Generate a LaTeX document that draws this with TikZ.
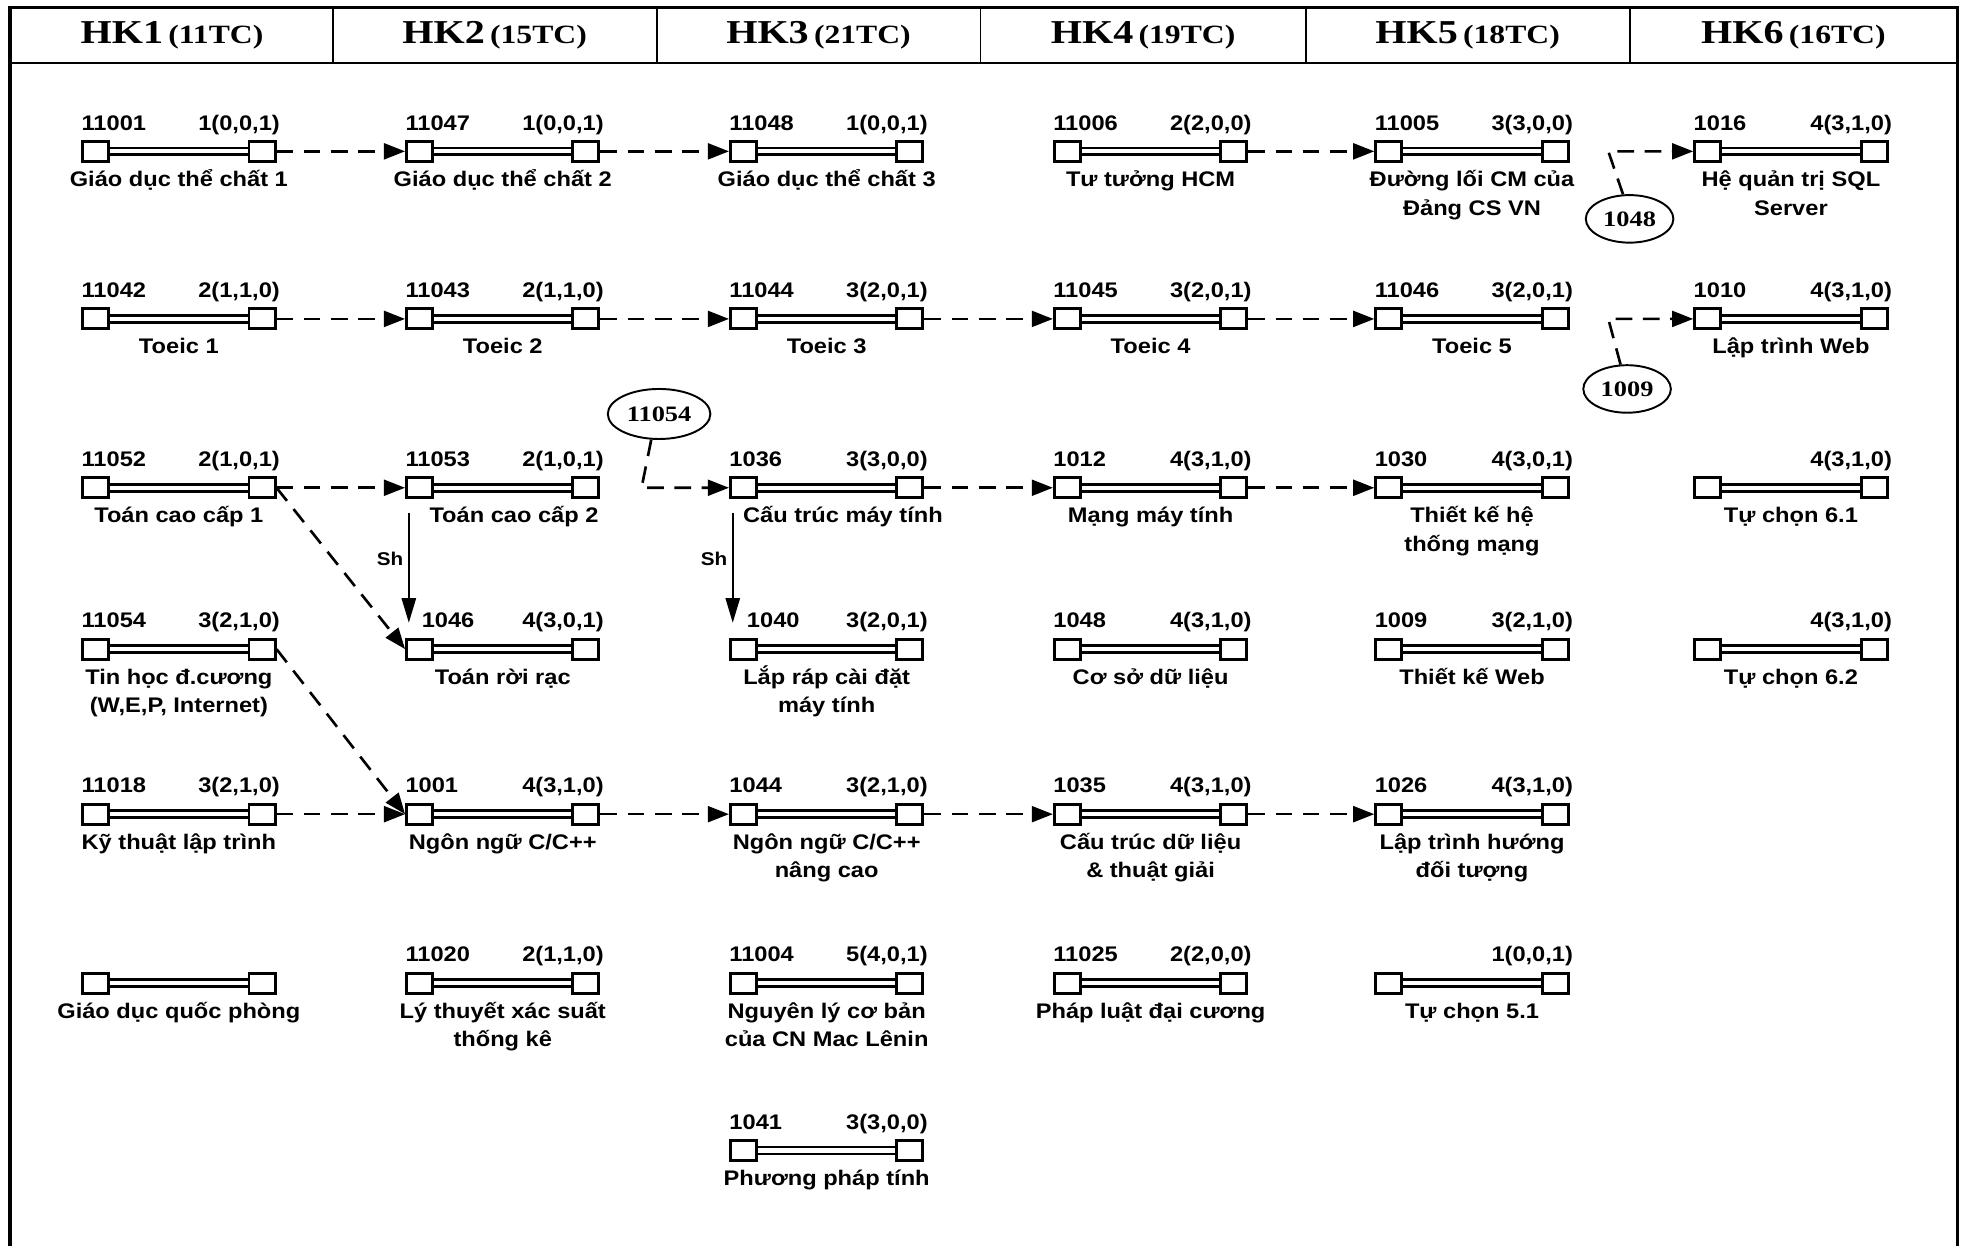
\documentclass[tikz,border=0pt]{standalone}
\usepackage{fontspec}
\setmainfont{Liberation Sans}[FakeStretch=1.12]
\newfontfamily\hkfont{Liberation Serif}[FakeStretch=1.2]
\usetikzlibrary{arrows.meta,calc,shapes.geometric}

\tikzset{
  sq/.style={draw, line width=1.7pt, fill=white, minimum width=0.52cm, minimum height=0.40cm, inner sep=0pt},
  dbl/.style={double, line width=1.5pt, double distance=2.4pt},
  dar/.style={line width=1.5pt, dash pattern=on 9.5pt off 6pt, -{Triangle[length=12pt,width=9pt]}},
  shar/.style={line width=1.3pt, -{Triangle[length=14pt,width=8pt]}},
  codet/.style={font=\bfseries\fontsize{12}{14}\selectfont, inner sep=0pt},
  namet/.style={font=\bfseries\fontsize{12}{16.3}\selectfont, inner sep=0pt, anchor=base},
  oval/.style={ellipse, draw, line width=1.1pt, minimum width=1.75cm, minimum height=0.95cm, inner sep=0pt, font=\hkfont\bfseries\fontsize{12.5}{14}\selectfont},
  shlab/.style={font=\bfseries\fontsize{10.5}{12}\selectfont, inner sep=2.5pt},
  hdr/.style={inner sep=0pt, anchor=center},
  frameline/.style={line width=1.8pt},
  hdrline/.style={line width=1.1pt}
}

\newcommand{\tl}[2]{\begin{tabular}[t]{@{}c@{}}#1\\#2\end{tabular}}

% #1 id, #2 cx, #3 y, #4 code, #5 code x-offset, #6 credits, #7 name x-offset, #8 name
\newcommand{\course}[8]{%
  \node[sq] (#1L) at ({#2-66.5},#3) {};
  \node[sq] (#1R) at ({#2+66.5},#3) {};
  \draw[dbl] (#1L.east) -- (#1R.west);
  \def\tmpcode{#4}%
  \ifx\tmpcode\empty\else
    \node[codet, anchor=base west] (#1c) at ({#2-78+#5},{#3-17}) {#4};
  \fi
  \def\tmpcred{#6}%
  \ifx\tmpcred\empty\else
    \node[codet, anchor=base east] (#1k) at ({#2+81},{#3-17}) {#6};
  \fi
  \node[namet] (#1n) at ({#2+#7},{#3+28}) {#8};
}

\newcommand{\hk}[2]{\hkfont\bfseries{\fontsize{19}{21}\selectfont HK#1} {\fontsize{15}{17}\selectfont (#2)}}

\begin{document}
\begin{tikzpicture}[x=0.025cm, y=-0.025cm]
\useasboundingbox (0,0) rectangle (1568,996);

% frame and header
\draw[frameline] (8,996) -- (8,6) -- (1565,6) -- (1565,996);
\draw[hdrline] (8,50) -- (1565,50);
\foreach \xx in {266,525,784,1044,1303} \draw[hdrline] (\xx,6) -- (\xx,50);

\node[hdr] (h1) at (137.5,28) {\hk{1}{11TC}};
\node[hdr] (h2) at (395.5,28) {\hk{2}{15TC}};
\node[hdr] (h3) at (654.5,28) {\hk{3}{21TC}};
\node[hdr] (h4) at (914,28) {\hk{4}{19TC}};
\node[hdr] (h5) at (1173.5,28) {\hk{5}{18TC}};
\node[hdr] (h6) at (1434,28) {\hk{6}{16TC}};

% row 1
\course{a1}{143}{121}{11001}{0}{1(0,0,1)}{0}{Giáo dục thể chất 1}
\course{b1}{402}{121}{11047}{0}{1(0,0,1)}{0}{Giáo dục thể chất 2}
\course{c1}{661}{121}{11048}{0}{1(0,0,1)}{0}{Giáo dục thể chất 3}
\course{d1}{920}{121}{11006}{0}{2(2,0,0)}{0}{Tư tưởng HCM}
\course{e1}{1177}{121}{11005}{0}{3(3,0,0)}{0}{\tl{Đường lối CM của}{Đảng CS VN}}
\course{f1}{1432}{121}{1016}{0}{4(3,1,0)}{0}{\tl{Hệ quản trị SQL}{Server}}
% row 2
\course{a2}{143}{255}{11042}{0}{2(1,1,0)}{0}{Toeic 1}
\course{b2}{402}{255}{11043}{0}{2(1,1,0)}{0}{Toeic 2}
\course{c2}{661}{255}{11044}{0}{3(2,0,1)}{0}{Toeic 3}
\course{d2}{920}{255}{11045}{0}{3(2,0,1)}{0}{Toeic 4}
\course{e2}{1177}{255}{11046}{0}{3(2,0,1)}{0}{Toeic 5}
\course{f2}{1432}{255}{1010}{0}{4(3,1,0)}{0}{Lập trình Web}
% row 3
\course{a3}{143}{390}{11052}{0}{2(1,0,1)}{0}{Toán cao cấp 1}
\course{b3}{402}{390}{11053}{0}{2(1,0,1)}{9}{Toán cao cấp 2}
\course{c3}{661}{390}{1036}{0}{3(3,0,0)}{13}{Cấu trúc máy tính}
\course{d3}{920}{390}{1012}{0}{4(3,1,0)}{0}{Mạng máy tính}
\course{e3}{1177}{390}{1030}{0}{4(3,0,1)}{0}{\tl{Thiết kế hệ}{thống mạng}}
\course{f3}{1432}{390}{}{0}{4(3,1,0)}{0}{Tự chọn 6.1}
% row 4
\course{a4}{143}{519}{11054}{0}{3(2,1,0)}{0}{\tl{Tin học đ.cương}{(W,E,P, Internet)}}
\course{b4}{402}{519}{1046}{13}{4(3,0,1)}{0}{Toán rời rạc}
\course{c4}{661}{519}{1040}{14}{3(2,0,1)}{0}{\tl{Lắp ráp cài đặt}{máy tính}}
\course{d4}{920}{519}{1048}{0}{4(3,1,0)}{0}{Cơ sở dữ liệu}
\course{e4}{1177}{519}{1009}{0}{3(2,1,0)}{0}{Thiết kế Web}
\course{f4}{1432}{519}{}{0}{4(3,1,0)}{0}{Tự chọn 6.2}
% row 5
\course{a5}{143}{651}{11018}{0}{3(2,1,0)}{0}{Kỹ thuật lập trình}
\course{b5}{402}{651}{1001}{0}{4(3,1,0)}{0}{Ngôn ngữ C/C++}
\course{c5}{661}{651}{1044}{0}{3(2,1,0)}{0}{\tl{Ngôn ngữ C/C++}{nâng cao}}
\course{d5}{920}{651}{1035}{0}{4(3,1,0)}{0}{\tl{Cấu trúc dữ liệu}{\& thuật giải}}
\course{e5}{1177}{651}{1026}{0}{4(3,1,0)}{0}{\tl{Lập trình hướng}{đối tượng}}
% row 6
\course{a6}{143}{786}{}{0}{}{0}{Giáo dục quốc phòng}
\course{b6}{402}{786}{11020}{0}{2(1,1,0)}{0}{\tl{Lý thuyết xác suất}{thống kê}}
\course{c6}{661}{786}{11004}{0}{5(4,0,1)}{0}{\tl{Nguyên lý cơ bản}{của CN Mac Lênin}}
\course{d6}{920}{786}{11025}{0}{2(2,0,0)}{0}{Pháp luật đại cương}
\course{e6}{1177}{786}{}{0}{1(0,0,1)}{0}{Tự chọn 5.1}
% row 7
\course{c7}{661}{920}{1041}{0}{3(3,0,0)}{0}{Phương pháp tính}

% prerequisite ovals
\node[oval] (o1048) at (1303,175) {1048};
\node[oval] (o1009) at (1301,311) {1009};
\node[oval, minimum width=2.05cm, minimum height=1.0cm] (o11054) at (527,331) {11054};
\coordinate (k1048) at (1286,121);
\coordinate (k1009) at (1286,255);
\coordinate (k11054) at (513,390);

% dashed connectors
\draw[dar] (a1R.east) -- (b1L.west);
\draw[dar] (b1R.east) -- (c1L.west);
\draw[dar] (d1R.east) -- (e1L.west);
\draw[dar] (o1048.105) -- (k1048) -- (f1L.west);

\draw[dar] (a2R.east) -- (b2L.west);
\draw[dar] (b2R.east) -- (c2L.west);
\draw[dar] (c2R.east) -- (d2L.west);
\draw[dar] (d2R.east) -- (e2L.west);
\draw[dar] (o1009.105) -- (k1009) -- (f2L.west);

\draw[dar] (a3R.east) -- (b3L.west);
\draw[dar] (o11054.253) -- (k11054) -- (c3L.west);
\draw[dar] (c3R.east) -- (d3L.west);
\draw[dar] (d3R.east) -- (e3L.west);
\draw[dar] (a3R.east) -- (b4L.west);
\draw[dar] (a4R.east) -- (b5L.west);

\draw[dar] (a5R.east) -- (b5L.west);
\draw[dar] (b5R.east) -- (c5L.west);
\draw[dar] (c5R.east) -- (d5L.west);
\draw[dar] (d5R.east) -- (e5L.west);

% solid "Sh" arrows
\draw[shar] ($(b3L.west)+(3,20)$) -- ($(b4L.west)+(3,-21)$) node[pos=0.42, left, shlab] (sh1) {Sh};
\draw[shar] ($(c3L.west)+(3,20)$) -- ($(c4L.west)+(3,-21)$) node[pos=0.42, left, shlab] (sh2) {Sh};
\end{tikzpicture}
\end{document}
